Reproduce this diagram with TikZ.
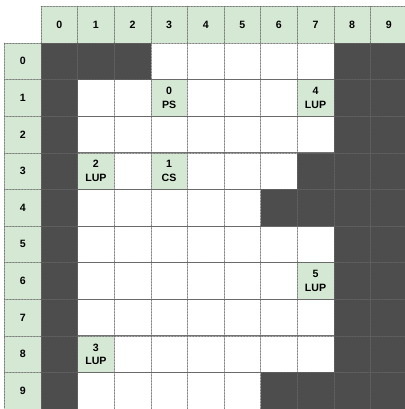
\documentclass[tikz,border=0pt]{standalone}
\usepackage{fontspec}
\setmainfont{Liberation Sans}
\definecolor{hdrgreen}{HTML}{D5E8D4}
\definecolor{wallgray}{HTML}{4D4D4D}
\begin{document}
\begin{tikzpicture}[x=1pt,y=1pt,line cap=round,line join=round,
  every node/.style={inner sep=0pt,align=center,font=\bfseries\fontsize{10.6}{13.5}\selectfont},
  dotline/.style={draw=black!60,line width=0.5pt,densely dotted},
  rowline/.style={draw=black!55,line width=0.8pt}]
  \useasboundingbox (0,0) rectangle (404,-409);
  % green header row and row labels
  \foreach \k in {0,...,9}{
    \fill[hdrgreen] ({41+36.6*\k},-6.4) rectangle ++(36.6,-36.6);
    \fill[hdrgreen] (4.4,{-43-36.6*\k}) rectangle ++(36.6,-36.6);
    \node (col\k) at ({59.3+36.6*\k},-24.7) {\k};
    \node (row\k) at (22.7,{-61.3-36.6*\k}) {\k};
  }
  % green cells with labels
  \foreach \r/\c/\name/\txt in {1/3/ps/{0\\PS},1/7/lupfour/{4\\LUP},3/1/luptwo/{2\\LUP},
                                3/3/cs/{1\\CS},6/7/lupfive/{5\\LUP},8/1/lupthree/{3\\LUP}}{
    \fill[hdrgreen] ({41+36.6*\c},{-43-36.6*\r}) rectangle ++(36.6,-36.6);
    \node (\name) at ({59.3+36.6*\c},{-61.3-36.6*\r}) {\txt};
  }
  % solid row lines
  \foreach \r in {1,...,9}{
    \draw[rowline] (78,{-43-36.6*\r}) -- (334,{-43-36.6*\r});
  }
  % walls
  \fill[wallgray] (41,-43) rectangle ++(36.6,-366);
  \fill[wallgray] (333.8,-43) rectangle ++(73.2,-366);
  \foreach \r/\c in {0/1,0/2,3/7,4/6,4/7,9/6,9/7}{
    \fill[wallgray] ({41+36.6*\c},{-43-36.6*\r}) rectangle ++(36.6,-36.6);
  }
  % dotted grid
  \draw[dotline] (41,-6.4) -- (407,-6.4);
  \draw[dotline] (4.4,-43) -- (407,-43);
  \draw[dotline] (4.4,-43) -- (4.4,-409);
  \draw[dotline] (41,-6.4) -- (41,-409);
  \foreach \k in {1,...,10}{
    \draw[dotline] (4.4,{-43-36.6*\k}) -- (407,{-43-36.6*\k});
    \draw[dotline] ({41+36.6*\k},-6.4) -- ({41+36.6*\k},-409);
  }
\end{tikzpicture}
\end{document}
